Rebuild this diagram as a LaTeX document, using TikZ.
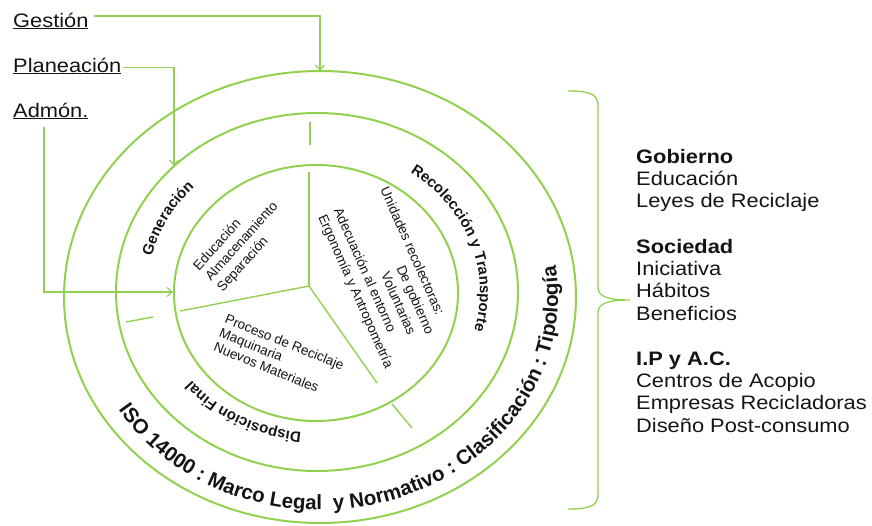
\documentclass[tikz,border=0pt]{standalone}
\usepackage{fontspec}
\usepackage{graphicx}
\setmainfont{Liberation Sans}
\usetikzlibrary{decorations.text,arrows.meta}
\definecolor{lgreen}{RGB}{146,208,80}
\definecolor{txt}{RGB}{20,20,20}
\newcommand{\ringfont}{\bfseries\fontsize{15}{17}\selectfont}
\newcommand{\outfont}{\bfseries\fontsize{20.5}{23}\selectfont}
\begin{document}
\begin{tikzpicture}[x=1pt,y=-1pt,
  ring/.style={draw=lgreen, line width=2pt},
  spoke/.style={draw=lgreen, line width=1.4pt},
  arr/.style={draw=lgreen, line width=1.2pt, -{Straight Barb[length=5pt,width=9pt]}},
  lbl/.style={inner sep=0pt, text=txt, font=\fontsize{19.5}{22.4}\selectfont},
  intxt/.style={inner sep=0pt, align=left, text=txt},
]
\useasboundingbox (0,0) rectangle (872,525);

% rings
\draw[ring] (316,293) ellipse [x radius=142, y radius=128];
\draw[ring] (317,292) ellipse [x radius=201, y radius=179];
\draw[ring] (320,297) ellipse [x radius=256, y radius=226];

% spokes
\coordinate (J) at (309,286);
\draw[spoke] (J) -- (309,172);
\draw[spoke] (J) -- (180,311);
\draw[spoke] (J) -- (377,383);
\draw[spoke] (310,122) -- (310,145);
\draw[spoke] (126,322) -- (153,317);
\draw[spoke] (392,404) -- (412,428);

% inner texts
\node[intxt, rotate=48, font=\fontsize{13.5}{16}\selectfont] (s1) at (242,242)
  {Educación\\Almacenamiento\\Separación};
\node[intxt, rotate=-66, font=\fontsize{13.5}{17}\selectfont] (s2) at (386,278)
  {Unidades recolectoras:\\\hspace*{78pt}De gobierno\\\hspace*{78pt}Voluntarias\\Adecuación al entorno\\Ergonomía y Antropometría};
\node[intxt, rotate=-22, font=\fontsize{13.5}{15}\selectfont] (s3) at (279,356)
  {Proceso de Reciclaje\\Maquinaria\\Nuevos Materiales};

% ring texts
\path[decorate, decoration={text along path, text align=center, text color=txt,
  text={|\ringfont|Generación}}]
  (316,292) ++(147:169 and 151) arc[start angle=147, end angle=267, x radius=169, y radius=151];
\path[decorate, decoration={text along path, text align=center, text color=txt,
  text={|\ringfont|Recolección y Transporte}}]
  (316,292) ++(-78:164 and 146) arc[start angle=-78, end angle=40, x radius=164, y radius=146];
\path[decorate, decoration={text along path, text align=center, text color=txt,
  text={|\ringfont|Disposición Final}}]
  (316,292) ++(60:160 and 141) arc[start angle=60, end angle=180, x radius=160, y radius=141];
\path[decorate, decoration={text along path, text align=center, text color=txt,
  text={|\outfont|ISO 14000 : Marco Legal {\ }y Normativo : Clasificación : Tipología}}]
  (320,296) ++(180:238 and 214) arc[start angle=180, end angle=-40, x radius=238, y radius=214];

% left labels and arrows
\node[lbl, anchor=base west] (gest) at (13,27) {\scalebox{1.12}[1]{\underline{Gestión}}};
\node[lbl, anchor=base west] (plan) at (13,72) {\scalebox{1.12}[1]{\underline{Planeación}}};
\node[lbl, anchor=base west] (adm) at (13,117) {\scalebox{1.12}[1]{\underline{Admón.}}};
\coordinate (gtip) at (320,71);
\coordinate (ptip) at (174,166);
\coordinate (atip) at (173,292);
\draw[arr] ([xshift=5pt,yshift=11pt]gest.base east) -| (gtip);
\draw[arr] ([xshift=2pt,yshift=4.5pt]plan.base east) -| (ptip);
\draw[arr] ([xshift=31pt,yshift=-10pt]adm.base west) |- (atip);

% brace
\draw[lgreen, line width=1.3pt] (568,91) .. controls (590,91) and (598,94) .. (598,106)
  -- (598,287) .. controls (598,296) and (606,300) .. (630,300)
  .. controls (606,300) and (598,304) .. (598,313)
  -- (598,494) .. controls (598,506) and (590,509) .. (568,509);

% right list
\node[lbl, anchor=base west] (gob) at (636,163) {\scalebox{1.12}[1]{\begin{tabular}[t]{@{}l@{}}\textbf{Gobierno}\\Educación\\Leyes de Reciclaje\end{tabular}}};
\node[lbl, anchor=base west] (soc) at (636,253) {\scalebox{1.12}[1]{\begin{tabular}[t]{@{}l@{}}\textbf{Sociedad}\\Iniciativa\\Hábitos\\Beneficios\end{tabular}}};
\node[lbl, anchor=base west] (ipac) at (636,365) {\scalebox{1.12}[1]{\begin{tabular}[t]{@{}l@{}}\textbf{I.P y A.C.}\\Centros de Acopio\\Empresas Recicladoras\\Diseño Post-consumo\end{tabular}}};
\end{tikzpicture}
\end{document}
